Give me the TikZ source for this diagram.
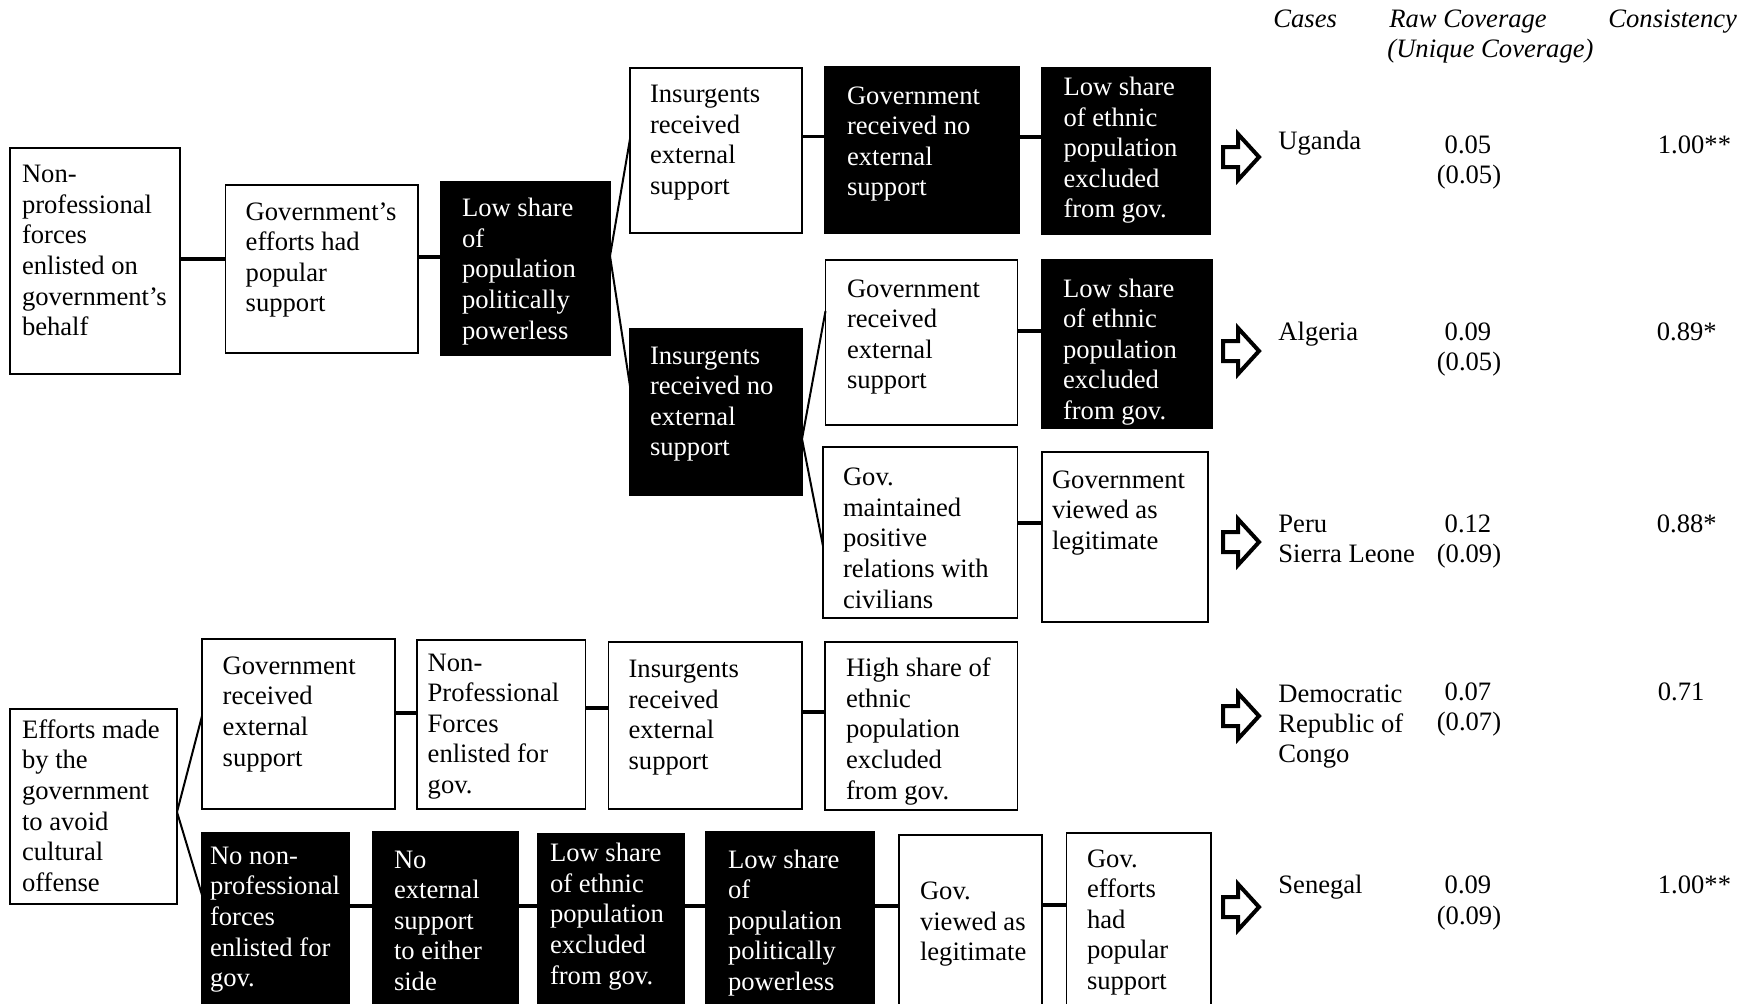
\documentclass[tikz,border=0pt]{standalone}
\usepackage{fontspec}
\setmainfont{Liberation Serif}
\tikzset{
 wbox/.style={draw=black, line width=0.75pt, fill=white, inner sep=0pt, outer sep=0pt},
 kbox/.style={draw=black, line width=0.75pt, fill=black, inner sep=0pt, outer sep=0pt},
 wtxt/.style={inner sep=0pt, outer sep=0pt, align=left, font=\fontsize{13.3}{15.3}\selectfont, text=black},
 ktxt/.style={wtxt, text=white},
 conn/.style={line width=1.75pt},
 branch/.style={line width=1pt},
 barrow/.style={draw=black, line width=2pt, fill=white, line join=miter},
 hdr/.style={inner sep=0pt, font=\fontsize{13.3}{15.3}\selectfont\itshape},
 val/.style={inner sep=0pt, font=\fontsize{13.3}{15.3}\selectfont},
}
% box: style, name, x1, y1, x2, y2
\newcommand\mybx[6]{\node[#1, anchor=north west, minimum width={(#5-#3)*0.5pt}, minimum height={(#6-#4)*0.5pt}] (#2) at (#3,#4) {};}
% text: style, name, x, first baseline y, text
\newcommand\mytx[5]{\node[#1, anchor=north west] (#2) at (#3,#4-21.42) {\strut #5};}
% block arrow centred at y
\newcommand\myarrow[1]{\draw[barrow] (1223,#1-10) -- (1238,#1-10) -- (1238,#1-23) -- (1259,#1) -- (1238,#1+23) -- (1238,#1+10) -- (1223,#1+10) -- cycle;}
\begin{document}
\begin{tikzpicture}[x=0.5pt, y=-0.5pt]
\useasboundingbox (0,0) rectangle (1756,1003);
\clip (0,0) rectangle (1756,1003);

% ---------- upper tree: boxes
\mybx{wbox}{np}{10}{148}{180}{374}
\mybx{wbox}{ge}{225.6}{185}{418}{353}
\mybx{kbox}{lp}{441}{182}{610}{355}
\mybx{wbox}{ire}{630}{68}{802}{233}
\mybx{kbox}{gne}{825}{67}{1019}{233}
\mybx{kbox}{leA}{1042}{68}{1210}{234.5}
\mybx{kbox}{ine}{630}{329}{802}{495}
\mybx{wbox}{gre}{825.5}{260}{1017.5}{425}
\mybx{kbox}{leB}{1042}{260}{1212}{428}
\mybx{wbox}{gm}{823}{447}{1017.5}{618}
\mybx{wbox}{gvl}{1042}{452}{1208}{622}

% ---------- lower tree: boxes
\mybx{wbox}{ef}{10}{709}{177}{904}
\mybx{wbox}{greB}{202}{639}{395}{809}
\mybx{wbox}{npf}{417}{640}{585.5}{809}
\mybx{wbox}{ireB}{608.5}{642}{802}{809}
\mybx{wbox}{hs}{825}{642}{1017.5}{810}
\mybx{kbox}{nnp}{202}{833}{349}{1020}
\mybx{kbox}{nes}{373}{832}{518}{1020}
\mybx{kbox}{leC}{538}{834}{684}{1020}
\mybx{kbox}{lpB}{706}{832}{874}{1020}
\mybx{wbox}{gvlB}{899}{835}{1042}{1020}
\mybx{wbox}{gep}{1066.7}{833}{1211}{1020}

% ---------- connectors (upper)
\draw[conn] (np.east |- 0,259) -- (ge.west |- 0,259);
\draw[conn] (ge.east |- 0,257) -- (lp.west |- 0,257);
\draw[branch] (lp.east |- 0,256) -- (ire.west |- 0,139);
\draw[branch] (lp.east |- 0,256) -- (ine.west |- 0,386);
\draw[conn] (ire.east |- 0,136.5) -- (gne.west |- 0,136.5);
\draw[conn] (gne.east |- 0,137) -- (leA.west |- 0,137);
\draw[branch] (ine.east |- 0,439) -- (gre.west |- 0,311);
\draw[branch] (ine.east |- 0,439) -- (gm.west |- 0,546);
\draw[conn] (gre.east |- 0,331) -- (leB.west |- 0,331);
\draw[conn] (gm.east |- 0,523) -- (gvl.west |- 0,523);

% ---------- connectors (lower)
\draw[branch] (ef.east |- 0,812) -- (greB.west |- 0,716);
\draw[branch] (ef.east |- 0,812) -- (nnp.west |- 0,895);
\draw[conn] (greB.east |- 0,713) -- (npf.west |- 0,713);
\draw[conn] (npf.east |- 0,708) -- (ireB.west |- 0,708);
\draw[conn] (ireB.east |- 0,712) -- (hs.west |- 0,712);
\draw[conn] (nnp.east |- 0,906) -- (nes.west |- 0,906);
\draw[conn] (nes.east |- 0,906) -- (leC.west |- 0,906);
\draw[conn] (leC.east |- 0,906) -- (lpB.west |- 0,906);
\draw[conn] (lpB.east |- 0,906) -- (gvlB.west |- 0,906);
\draw[conn] (gvlB.east |- 0,905) -- (gep.west |- 0,905);

% ---------- box texts (upper)
\mytx{wtxt}{np-t}{22}{182.7}{Non-\\professional\\forces\\enlisted on\\government’s\\behalf}
\mytx{wtxt}{ge-t}{245.7}{220}{Government’s\\efforts had\\popular\\support}
\mytx{ktxt}{lp-t}{462}{216.7}{Low share\\of\\population\\politically\\powerless}
\mytx{wtxt}{ire-t}{650}{102.7}{Insurgents\\received\\external\\support}
\mytx{ktxt}{gne-t}{847}{104}{Government\\received no\\external\\support}
\mytx{ktxt}{leA-t}{1063.5}{95.4}{Low share\\of ethnic\\population\\excluded\\from gov.}
\mytx{ktxt}{ine-t}{650}{364}{Insurgents\\received no\\external\\support}
\mytx{wtxt}{gre-t}{847}{297}{Government\\received\\external\\support}
\mytx{ktxt}{leB-t}{1063}{297}{Low share\\of ethnic\\population\\excluded\\from gov.}
\mytx{wtxt}{gm-t}{843}{485.7}{Gov.\\maintained\\positive\\relations with\\civilians}
\mytx{wtxt}{gvl-t}{1052}{488}{Government\\viewed as\\legitimate}

% ---------- box texts (lower)
\mytx{wtxt}{ef-t}{22}{738.3}{Efforts made\\by the\\government\\to avoid\\cultural\\offense}
\mytx{wtxt}{greB-t}{222.7}{674.3}{Government\\received\\external\\support}
\mytx{wtxt}{npf-t}{427.7}{671}{Non-\\Professional\\Forces\\enlisted for\\gov.}
\mytx{wtxt}{ireB-t}{628.6}{677.7}{Insurgents\\received\\external\\support}
\mytx{wtxt}{hs-t}{846}{676.7}{High share of\\ethnic\\population\\excluded\\from gov.}
\mytx{ktxt}{nnp-t}{210}{864.3}{No non-\\professional\\forces\\enlisted for\\gov.}
\mytx{ktxt}{nes-t}{394}{868}{No\\external\\support\\to either\\side}
\mytx{ktxt}{leC-t}{550}{861.7}{Low share\\of ethnic\\population\\excluded\\from gov.}
\mytx{ktxt}{lpB-t}{728}{868}{Low share\\of\\population\\politically\\powerless}
\mytx{wtxt}{gvlB-t}{920}{899.5}{Gov.\\viewed as\\legitimate}
\mytx{wtxt}{gep-t}{1087}{867}{Gov.\\efforts\\had\\popular\\support}

% ---------- outcome arrows
\myarrow{157}
\myarrow{351}
\myarrow{542}
\myarrow{716}
\myarrow{907}

% ---------- header
\node[hdr, anchor=base west] (hcases) at (1273,27.8) {Cases};
\node[hdr, anchor=base west] (hraw) at (1389,27.8) {Raw Coverage};
\node[hdr, anchor=base west] (huniq) at (1387,57.5) {(Unique Coverage)};
\node[hdr, anchor=base west] (hcons) at (1608,27.8) {Consistency};

% ---------- cases and values
\node[val, anchor=base west] (c1) at (1278,149) {Uganda};
\node[val, anchor=base] (r1) at (1468,153) {0.05};
\node[val, anchor=base] (u1) at (1469,183.5) {(0.05)};
\node[val, anchor=base west] (k1) at (1657.5,153) {1.00**};

\node[val, anchor=base west] (c2) at (1278,340) {Algeria};
\node[val, anchor=base] (r2) at (1468,340) {0.09};
\node[val, anchor=base] (u2) at (1469,370.5) {(0.05)};
\node[val, anchor=base west] (k2) at (1656.5,340) {0.89*};

\node[val, anchor=base west] (c3a) at (1278,532) {Peru};
\node[val, anchor=base west] (c3b) at (1278,562) {Sierra Leone};
\node[val, anchor=base] (r3) at (1468,532) {0.12};
\node[val, anchor=base] (u3) at (1469,562) {(0.09)};
\node[val, anchor=base west] (k3) at (1656.5,532) {0.88*};

\node[val, anchor=base west] (c4a) at (1278,702) {Democratic};
\node[val, anchor=base west] (c4b) at (1278,732) {Republic of};
\node[val, anchor=base west] (c4c) at (1278,762.5) {Congo};
\node[val, anchor=base] (r4) at (1468,700) {0.07};
\node[val, anchor=base] (u4) at (1469,730) {(0.07)};
\node[val, anchor=base west] (k4) at (1657.5,700) {0.71};

\node[val, anchor=base west] (c5) at (1278,893.5) {Senegal};
\node[val, anchor=base] (r5) at (1468,893.5) {0.09};
\node[val, anchor=base] (u5) at (1469,924) {(0.09)};
\node[val, anchor=base west] (k5) at (1657.5,893.5) {1.00**};
\end{tikzpicture}
\end{document}
